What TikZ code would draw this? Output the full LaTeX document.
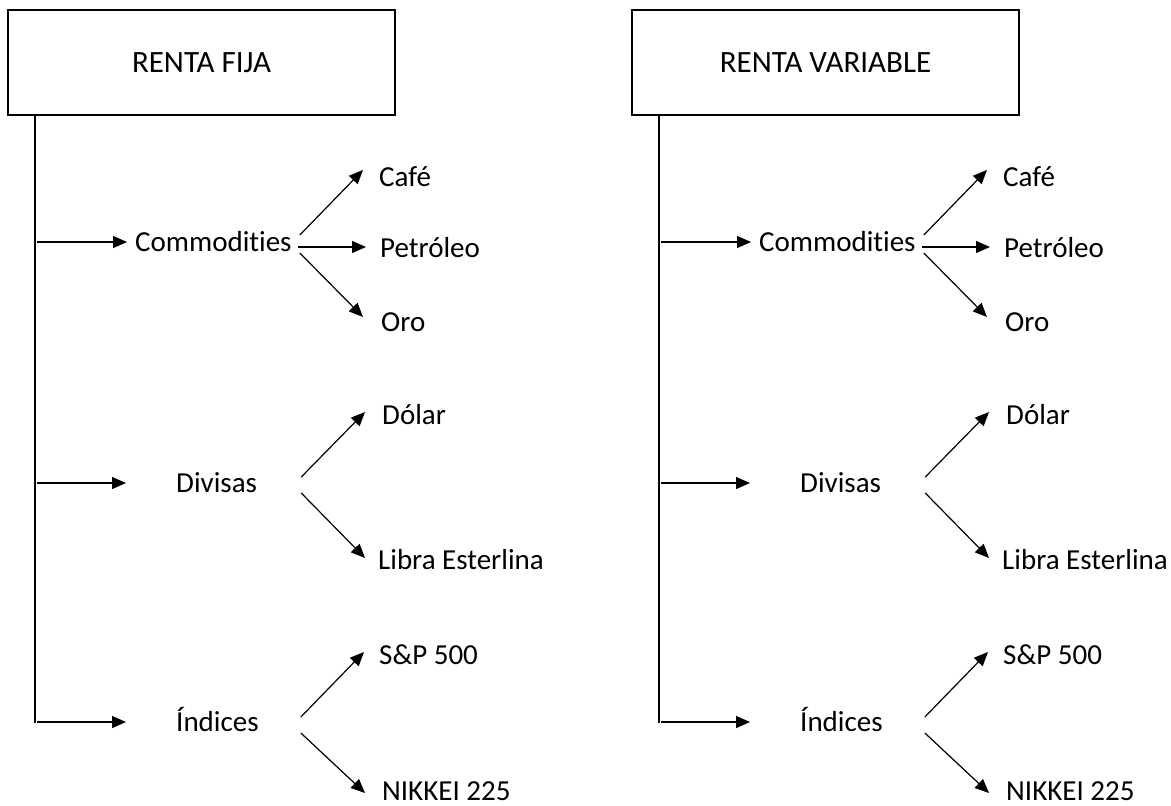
\documentclass[tikz,border=0pt]{standalone}
\usepackage{fontspec}
\setmainfont{Carlito}[Ligatures=NoCommon]
\usetikzlibrary{arrows.meta,calc}
\tikzset{
  titlebox/.style={draw=black,line width=1.4pt,minimum width=387pt,minimum height=105pt,inner sep=0pt,font=\fontsize{31}{36}\selectfont},
  lbl/.style={anchor=base west,inner sep=0pt,font=\fontsize{29}{34}\selectfont},
  spineline/.style={draw=black,line width=1.3pt},
  arr/.style={draw=black,line width=1.2pt,-{Triangle[length=14pt,width=12pt]}}
}
\newcommand\mypanel[3]{%
\begin{scope}[xshift=#2]
\node[titlebox] (#1box) at (201.5,62.5) {#3};
\coordinate (#1top) at (35,115);
\coordinate (#1bot) at (35,723);
\draw[spineline] (#1top) -- (#1bot);
\node[lbl] (#1com) at (135,251) {Commodities};
\node[lbl] (#1caf) at (379,186) {Café};
\node[lbl] (#1pet) at (380,257) {Petróleo};
\node[lbl] (#1oro) at (381,331) {Oro};
\node[lbl] (#1div) at (176,492) {Divisas};
\node[lbl] (#1dol) at (382,424) {Dólar};
\node[lbl] (#1lib) at (378,569) {Libra Esterlina};
\node[lbl] (#1ind) at (176,731) {Índices};
\node[lbl] (#1sp) at (379,664) {S\&P 500};
\node[lbl] (#1nik) at (382,800) {NIKKEI 225};
% spine arrows
\draw[arr] ($(#1top |- #1com.base)+(2,-9)$) -- ($(#1com.base west)+(-8,-9)$);
\draw[arr] ($(#1top |- #1div.base)+(2,-9)$) -- ($(#1div.base west)+(-50,-9)$);
\draw[arr] ($(#1top |- #1ind.base)+(2,-9)$) -- ($(#1ind.base west)+(-50,-9)$);
% commodities branches
\draw[arr] ($(#1com.base east)+(8,-16)$) -- ($(#1caf.base west)+(-16,-16)$);
\draw[arr] ($(#1com.base east)+(6,-4)$) -- ($(#1pet.base west)+(-14,-10)$);
\draw[arr] ($(#1com.base east)+(8,2)$) -- ($(#1oro.base west)+(-18,-14)$);
% divisas branches
\draw[arr] ($(#1div.base east)+(44,-15)$) -- ($(#1dol.base west)+(-17,-12)$);
\draw[arr] ($(#1div.base east)+(44,1)$) -- ($(#1lib.base west)+(-13,-11)$);
% indices branches
\draw[arr] ($(#1ind.base east)+(42,-14)$) -- ($(#1sp.base west)+(-15,-12)$);
\draw[arr] ($(#1ind.base east)+(42,2)$) -- ($(#1nik.base west)+(-17,-7)$);
\end{scope}}
\begin{document}
\begin{tikzpicture}[x=1pt,y=-1pt]
\fill[white] (0,0) rectangle (1171,806);
\useasboundingbox (0,0) rectangle (1171,806);
\mypanel{L}{0pt}{RENTA FIJA}
\mypanel{R}{624pt}{RENTA VARIABLE}
\end{tikzpicture}
\end{document}
